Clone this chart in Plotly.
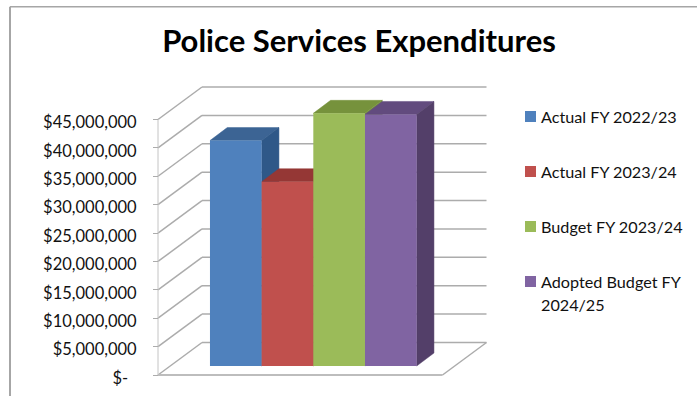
import plotly.graph_objects as go

# Chart content
title = "Police Services Expenditures"
series_names = ["Actual FY 2022/23", "Actual FY 2023/24", "Budget FY 2023/24", "Adopted Budget FY<br>2024/25"]
series_values = [39700000, 32450000, 44500000, 44300000]
tick_values = [0, 5000000, 10000000, 15000000, 20000000, 25000000, 30000000, 35000000, 40000000, 45000000]
tick_labels = ["$-\u00a0\u00a0", "$5,000,000", "$10,000,000", "$15,000,000", "$20,000,000", "$25,000,000",
               "$30,000,000", "$35,000,000", "$40,000,000", "$45,000,000"]

# Face colours for the bars: front, top, right side
front_colors = ["#4f81bd", "#c0504d", "#9bbb59", "#8064a2"]
top_colors = ["#3c6494", "#953735", "#76923c", "#624b7e"]
side_colors = ["#2f5888", "#953735", "#76923c", "#533f69"]
grid_color = "#acacac"

# Page and projection geometry
W, H = 697, 396
ZERO_PX = 375.0        # page row of value 0 on the front edge
PX_PER_TICK = 28.39    # rows between labelled ticks
TICK_STEP = 5000000
SLOT_PX = 51.67        # width of one bar
FIRST_BAR_PX = 235.8   # centre of the first bar
AXIS_PX = 158.0
val_per_px = TICK_STEP / PX_PER_TICK


def px_x(px):
    return (px - FIRST_BAR_PX) / SLOT_PX


def dy(px):
    return px * val_per_px


x_range = [px_x(0), px_x(W)]
y_range = [dy(ZERO_PX - H), dy(ZERO_PX)]

wall_dx = 44 / SLOT_PX      # oblique offset of the back wall
wall_dy = dy(32.5)
bar_base = dy(9)            # lift of the bars' front plane above the axis
bar_dx = 17.3 / SLOT_PX     # oblique depth of each bar
bar_dy = dy(13)
half = 0.5
x_left = px_x(AXIS_PX)
x_right = px_x(442.5)

shapes = []


def line(x0, y0, x1, y1, color=grid_color, width=1.5):
    shapes.append(dict(type="line", xref="x", yref="y", x0=x0, y0=y0, x1=x1, y1=y1,
                       layer="below", line=dict(color=color, width=width)))


def poly(points, color):
    path = "M " + " L ".join(f"{x},{y}" for x, y in points) + " Z"
    shapes.append(dict(type="path", xref="x", yref="y", path=path, layer="below",
                       fillcolor=color, line=dict(color=color, width=0.5)))


# Side wall and back wall gridlines
for v in tick_values:
    line(x_left, v, x_left + wall_dx, v + wall_dy)
    line(x_left + wall_dx, v + wall_dy, x_right + wall_dx, v + wall_dy)

# Front edge of the side wall and remaining floor outline
line(x_left, 0, x_left, tick_values[-1], color="#c4c4c4", width=1)
line(x_left, 0, x_right, 0, color="#bdbdbd", width=2)
line(x_right, 0, x_right + wall_dx, wall_dy)

# Top and right faces, painted left to right so each bar overlaps its neighbour
for i, value in enumerate(series_values):
    top = bar_base + value
    poly([(i - half, top), (i - half + bar_dx, top + bar_dy),
          (i + half + bar_dx, top + bar_dy), (i + half, top)], top_colors[i])
    poly([(i + half, top), (i + half + bar_dx, top + bar_dy),
          (i + half + bar_dx, bar_base + bar_dy), (i + half, bar_base)], side_colors[i])

# Chart frame: top and left edges
shapes.append(dict(type="line", xref="paper", yref="paper", x0=10 / W, x1=1,
                   y0=1 - 6.7 / H, y1=1 - 6.7 / H, line=dict(color="#a6a6a6", width=1.5)))
shapes.append(dict(type="line", xref="paper", yref="paper", x0=10 / W, x1=10 / W,
                   y0=0, y1=1 - 6.7 / H, line=dict(color="#a6a6a6", width=2)))

# Legend entries
annotations = []
legend_rows = [116, 171, 226, 281]
for name, color, row in zip(series_names, front_colors, legend_rows):
    shapes.append(dict(type="rect", xref="paper", yref="paper", x0=525 / W, x1=536 / W,
                       y0=1 - (row + 0.5 + 5.5) / H, y1=1 - (row + 0.5 - 5.5) / H,
                       fillcolor=color, line=dict(width=0)))
    for k, text in enumerate(name.split("<br>")):
        annotations.append(dict(xref="paper", yref="paper", x=541 / W, y=1 - (row + k * 23) / H,
                                xanchor="left", yanchor="middle", showarrow=False, xshift=-2,
                                text=text, font=dict(family="Lato", size=16.2, color="#111111")))

fig = go.Figure()
for i, (name, value, color) in enumerate(zip(series_names, series_values, front_colors)):
    fig.add_trace(go.Bar(x=[i], y=[value], base=bar_base, width=1, name=name.replace("<br>", " "),
                         marker=dict(color=color, line=dict(width=0)), showlegend=False))

fig.update_layout(
    width=W, height=H,
    margin=dict(l=0, r=0, t=0, b=0),
    paper_bgcolor="white", plot_bgcolor="white",
    barmode="overlay",
    title=dict(text=f"<b>{title}</b>", x=359 / W, y=1 - 41 / H, xanchor="center", yanchor="middle",
               font=dict(family="Lato", size=31, color="#000000")),
    xaxis=dict(visible=False, range=x_range, fixedrange=True),
    yaxis=dict(range=y_range, anchor="free", position=AXIS_PX / W, tickmode="array",
               tickvals=tick_values, ticktext=tick_labels, ticks="outside", ticklen=5,
               tickcolor=grid_color, showgrid=False, zeroline=False, showline=False,
               ticklabelstandoff=13, ticklabelshift=3,
               tickfont=dict(family="Lato", size=16.5, color="#111111"), fixedrange=True),
    shapes=shapes,
    annotations=annotations,
)

fig.write_html("out.html", config=dict(displayModeBar=False))
